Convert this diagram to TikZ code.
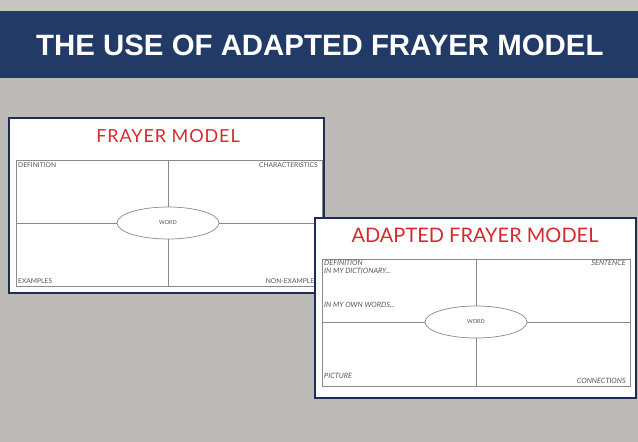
\documentclass[tikz,border=0pt]{standalone}
\usepackage{fontspec}
\setmainfont{Liberation Sans}
\newfontfamily\cardfont{Lato}
\newfontfamily\cardtitle[LetterSpace=5]{Lato}
\definecolor{bgg}{HTML}{BDBBB7}
\definecolor{banner}{HTML}{223A66}
\definecolor{navy}{HTML}{1E2D55}
\definecolor{fred}{HTML}{D42A2E}
\definecolor{gline}{HTML}{8A8A8A}
\definecolor{gtext}{HTML}{555555}
\tikzset{
  card/.style={draw=navy, line width=1.2pt, fill=white},
  grid/.style={draw=gline, line width=0.7pt},
  lbl/.style={font=\cardfont\fontsize{6.7}{7}\selectfont, text=gtext, inner sep=0pt},
  ilbl/.style={font=\cardfont\itshape\fontsize{7.3}{8}\selectfont, text=gtext, inner sep=0pt},
  word/.style={ellipse, draw=gline, fill=white, line width=0.7pt, minimum width=102pt, minimum height=32pt, font=\cardfont\fontsize{5.5}{6}\selectfont, text=gtext, inner sep=0pt}
}
\usetikzlibrary{shapes.geometric}
\begin{document}
\begin{tikzpicture}[x=1pt,y=-1pt]
\useasboundingbox (0,0) rectangle (638,442);
\fill[bgg] (0,0) rectangle (638,442);
\fill[bgg!85!white] (0,0) rectangle (638,11);
\fill[banner] (0,11) rectangle (638,78);
\node[anchor=base west, text=white, font=\bfseries\fontsize{29.4}{33}\selectfont, inner sep=0pt] (title) at (36,55) {THE USE OF ADAPTED FRAYER MODEL};
% left card
\draw[card] (9,118) rectangle (324,293);
\node[font=\cardtitle\fontsize{18}{20}\selectfont, text=fred, anchor=base, inner sep=0pt] (t1) at (168,142) {FRAYER MODEL};
\draw[grid] (16,160) rectangle (322,286);
\draw[grid] (168,160) -- (168,286);
\draw[grid] (16,223) -- (322,223);
\node[word] (w1) at (168,223) {WORD};
\node[lbl, anchor=base west] (d1) at (18,167) {DEFINITION};
\node[lbl, anchor=base east] (c1) at (318,167) {CHARACTERISTICS};
\node[lbl, anchor=base west] (e1) at (18,283) {EXAMPLES};
\node[lbl, anchor=base east] (n1) at (318,283) {NON-EXAMPLES};
% right card
\draw[card] (315,218) rectangle (636,398);
\node[font=\cardfont\fontsize{20}{23}\selectfont, text=fred, anchor=base, inner sep=0pt] (t2) at (475,242) {ADAPTED FRAYER MODEL};
\draw[grid] (322,259) rectangle (630,386);
\draw[grid] (476,259) -- (476,386);
\draw[grid] (322,322) -- (630,322);
\node[word] (w2) at (476,322) {WORD};
\node[ilbl, anchor=base west] (d2) at (324,265.5) {DEFINITION};
\node[ilbl, anchor=base west] (d3) at (324,273) {IN MY DICTIONARY...};
\node[ilbl, anchor=base west] (o2) at (324,307) {IN MY OWN WORDS...};
\node[ilbl, anchor=base west] (p2) at (324,378) {PICTURE};
\node[ilbl, anchor=base east] (s2) at (626,265.5) {SENTENCE};
\node[ilbl, anchor=base east] (c2) at (626,383.5) {CONNECTIONS};
\end{tikzpicture}
\end{document}
